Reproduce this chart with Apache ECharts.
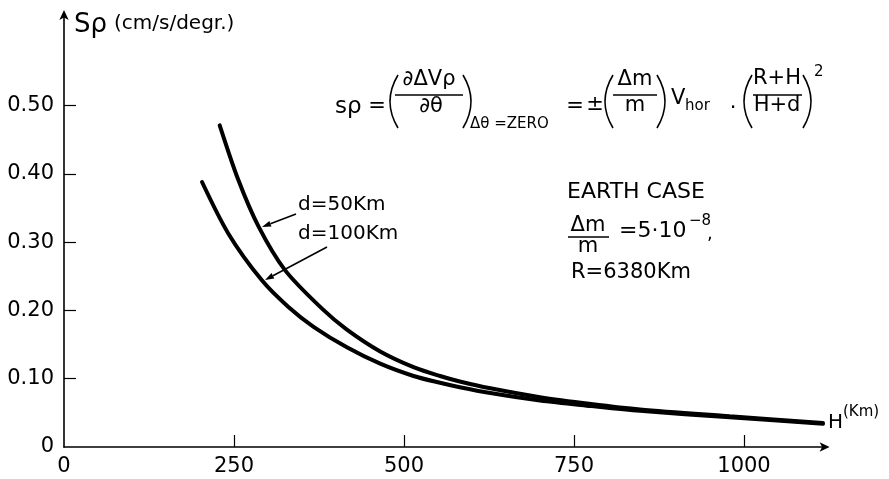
<!DOCTYPE html>
<html>
<head>
<meta charset="utf-8">
<script src="https://cdn.jsdelivr.net/npm/echarts@6/dist/echarts.min.js"></script>
<style>html,body{margin:0;padding:0;background:#fff}#c{width:889px;height:479px}</style>
</head>
<body>
<div id="c"></div>
<script>
// Data
const H50  = [229, 256, 286, 325, 379, 416, 465, 514, 553, 582, 627, 700, 775, 847, 979, 1116];
const S50  = [0.471, 0.392, 0.323, 0.259, 0.203, 0.172, 0.140, 0.117, 0.104, 0.096, 0.086, 0.073, 0.063, 0.055, 0.045, 0.035];
const H100 = [203, 242, 291, 330, 367, 416, 465, 514, 553, 582, 627, 700, 775, 847, 979, 1116];
const S100 = [0.388, 0.312, 0.244, 0.205, 0.176, 0.146, 0.122, 0.104, 0.094, 0.0875, 0.079, 0.068, 0.060, 0.053, 0.0435, 0.034];
const xTickLabels = [0, 250, 500, 750, 1000];
const yTickLabels = [0, 0.10, 0.20, 0.30, 0.40, 0.50];

const FONT = '"DejaVu Sans", sans-serif';
const chart = echarts.init(document.getElementById('c'));

function txt(text, x, y, size, align) {
  return {type: 'text', x: x, y: y, style: {text: text, font: size + 'px ' + FONT, fill: '#000', align: align || 'left', verticalAlign: 'middle'}};
}
function hline(x1, x2, y) {
  return {type: 'line', shape: {x1: x1, y1: y, x2: x2, y2: y}, style: {stroke: '#000', lineWidth: 1.3}};
}
function paren(x, dir) {
  // dir -1 = left paren, +1 = right paren
  return {type: 'bezierCurve', shape: {x1: x, y1: 75, x2: x, y2: 128, cpx1: x + dir * 16, cpy1: 101.5}, style: {stroke: '#000', lineWidth: 1.6, fill: null}};
}
function arrow(sx, sy, tx, ty) {
  const dx = tx - sx, dy = ty - sy, L = Math.hypot(dx, dy);
  const ux = dx / L, uy = dy / L, nx = -uy, ny = ux;
  const bx = tx - 9 * ux, by = ty - 9 * uy;
  return [
    {type: 'line', shape: {x1: sx, y1: sy, x2: bx, y2: by}, style: {stroke: '#000', lineWidth: 1.5}},
    {type: 'polygon', shape: {points: [[tx, ty], [bx + 3 * nx, by + 3 * ny], [bx - 3 * nx, by - 3 * ny]]}, style: {fill: '#000'}}
  ];
}

const graphics = [
  txt('Sρ', 74, 25, 26),
  txt('(cm/s/degr.)', 114, 24, 20),
  // formula
  txt('sρ', 335, 107, 23),
  txt('=', 377, 107, 21, 'center'),
  paren(398, -1),
  txt('∂ΔVρ', 429, 80, 21, 'center'),
  hline(395, 463, 95),
  txt('∂θ', 431, 107, 21, 'center'),
  paren(463, 1),
  txt('Δθ =ZERO', 470, 124, 15),
  txt('=', 575, 107, 21, 'center'),
  txt('±', 595, 105, 21, 'center'),
  paren(613, -1),
  txt('Δm', 635, 80, 21, 'center'),
  hline(613, 657, 95),
  txt('m', 635, 106, 21, 'center'),
  paren(657, 1),
  txt('V', 671, 99, 21),
  txt('hor', 685, 106, 15),
  txt('·', 733, 109, 21, 'center'),
  paren(752, -1),
  txt('R+H', 777, 79, 21, 'center'),
  hline(753, 802, 95),
  txt('H+d', 777, 106, 21, 'center'),
  paren(803, 1),
  txt('2', 814, 72, 15),
  // earth case
  txt('EARTH CASE', 567, 192, 22),
  txt('Δm', 588, 226, 21, 'center'),
  hline(568, 609, 237),
  txt('m', 588, 247, 21, 'center'),
  txt('=5·10', 619, 231, 22),
  txt('−8', 689, 221, 15),
  txt(',', 707, 234, 18),
  txt('R=6380Km', 571, 273, 21),
  // curve labels
  txt('d=50Km', 298, 205, 20),
  txt('d=100Km', 298, 234, 20),
  txt('H', 828, 423, 20),
  txt('(Km)', 843, 412, 15)
].concat(arrow(296, 214, 262, 227)).concat(arrow(327, 247, 265, 280));

const axisLineStyle = {color: '#000', width: 1.6};

chart.setOption({
  animation: false,
  backgroundColor: '#fff',
  grid: {left: 64, top: 14, right: 63.4, bottom: 32, containLabel: false},
  xAxis: {
    type: 'value', min: 0, max: 1120,
    axisLine: {show: true, lineStyle: axisLineStyle, symbol: ['none', 'arrow'], symbolSize: [7, 10], symbolOffset: [0, 4]},
    axisTick: {show: true, inside: true, length: 12, lineStyle: {color: '#000', width: 1.2}, customValues: xTickLabels.slice(1)},
    axisLabel: {color: '#000', fontFamily: 'DejaVu Sans', fontSize: 21, margin: 9, customValues: xTickLabels,
      formatter: function (v) { return String(v); }},
    splitLine: {show: false}
  },
  yAxis: {
    type: 'value', min: 0, max: 0.634,
    axisLine: {show: true, lineStyle: axisLineStyle, symbol: ['none', 'arrow'], symbolSize: [7, 10], symbolOffset: [0, 4]},
    axisTick: {show: true, inside: true, length: 12, lineStyle: {color: '#000', width: 1.2}, customValues: yTickLabels.slice(1)},
    axisLabel: {color: '#000', fontFamily: 'DejaVu Sans', fontSize: 21, margin: 10, customValues: yTickLabels,
      formatter: function (v) { return v === 0 ? '0' : v.toFixed(2); }},
    splitLine: {show: false}
  },
  series: [
    {name: 'd=50Km', type: 'line', smooth: 0.3, showSymbol: false, symbol: 'none',
     lineStyle: {color: '#000', width: 4, cap: 'round'},
     data: H50.map((h, i) => [h, S50[i]])},
    {name: 'd=100Km', type: 'line', smooth: 0.3, showSymbol: false, symbol: 'none',
     lineStyle: {color: '#000', width: 4, cap: 'round'},
     data: H100.map((h, i) => [h, S100[i]])}
  ],
  graphic: graphics
});
</script>
</body>
</html>
